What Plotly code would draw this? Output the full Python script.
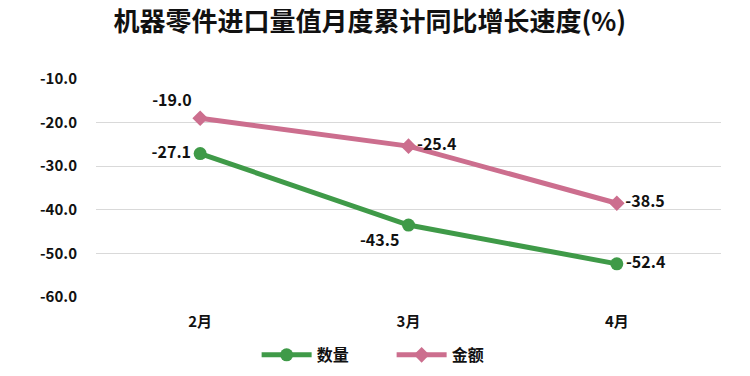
import plotly.graph_objects as go

categories = ["2月", "3月", "4月"]
qty = [-27.1, -43.5, -52.4]
amount = [-19.0, -25.4, -38.5]
y_ticks = [-10, -20, -30, -40, -50, -60]

FONT = "Noto Sans CJK SC, Noto Sans, sans-serif"

fig = go.Figure()
fig.add_trace(go.Scatter(
    x=categories, y=qty, name="数量", mode="lines+markers+text",
    line=dict(color="#3F9A48", width=5),
    marker=dict(symbol="circle", size=13, color="#3F9A48"),
    text=[f"{v:.1f}" for v in qty],
    textposition=["middle left", "bottom left", "middle right"],
    textfont=dict(size=16, color="#111", family=FONT, weight="bold"),
    cliponaxis=False,
))
fig.add_trace(go.Scatter(
    x=categories, y=amount, name="金额", mode="lines+markers+text",
    line=dict(color="#CC6E8E", width=5),
    marker=dict(symbol="diamond", size=12, color="#CC6E8E"),
    text=[f"{v:.1f}" for v in amount],
    textposition=["top left", "middle right", "middle right"],
    textfont=dict(size=16, color="#111", family=FONT, weight="bold"),
    cliponaxis=False,
))

fig.update_layout(
    width=750, height=376,
    paper_bgcolor="white", plot_bgcolor="white",
    margin=dict(l=96, r=29, t=79, b=79, autoexpand=False),
    title=dict(text="机器零件进口量值月度累计同比增长速度(%)", x=0.493, xanchor="center",
               y=0.942, yanchor="middle",
               font=dict(size=26, color="#111", family=FONT, weight="bold")),
    legend=dict(orientation="h", x=0.473, xanchor="center", yref="container",
                y=0.056, yanchor="middle", itemwidth=50, entrywidth=70,
                font=dict(size=16, color="#111", family=FONT, weight="bold")),
    showlegend=True,
    font=dict(family=FONT),
)
fig.update_xaxes(showgrid=False, showline=False, ticks="", range=[-0.5, 2.5],
                 ticklabelstandoff=14,
                 tickfont=dict(size=15, color="#111", family=FONT, weight="bold"))
fig.update_yaxes(range=[-60, -10], tickvals=y_ticks,
                 ticktext=[f"{v:.1f}" for v in y_ticks],
                 showgrid=True, gridcolor="#D9D9D9", gridwidth=1,
                 zeroline=False, showline=False, ticks="", ticklabelstandoff=18,
                 tickfont=dict(size=15, color="#111", family=FONT, weight="bold"))

fig.write_html("out.html", config={"displayModeBar": False},
               post_script="document.body.style.margin='0';")
